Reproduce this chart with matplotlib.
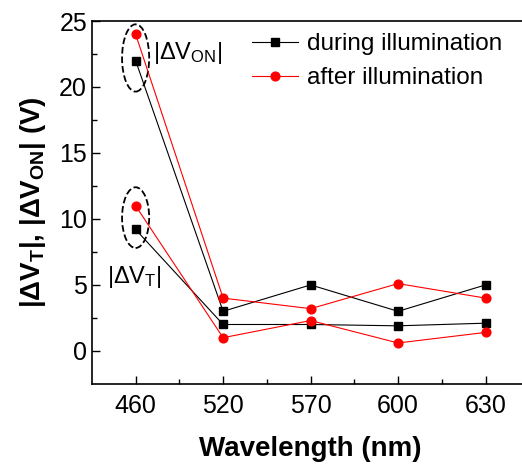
import matplotlib

matplotlib.use("Agg")
import matplotlib.pyplot as plt
from matplotlib.patches import Ellipse


# wavelengths (categorical, equally spaced on the axis)
wavelengths = ["460", "520", "570", "600", "630"]

# |dV_ON| and |dV_T| during / after illumination (V)
von_during = [22.0, 3.0, 5.0, 3.0, 5.0]
vt_during = [9.2, 2.0, 2.0, 1.9, 2.1]
von_after = [24.0, 4.0, 3.2, 5.1, 4.0]
vt_after = [11.0, 1.0, 2.3, 0.6, 1.4]

plt.rcParams["font.family"] = ["Liberation Sans", "DejaVu Sans"]
plt.rcParams["mathtext.fontset"] = "custom"
plt.rcParams["mathtext.rm"] = "Liberation Sans"
plt.rcParams["mathtext.it"] = "Liberation Sans:italic"
plt.rcParams["mathtext.bf"] = "Liberation Sans:bold"

fig = plt.figure(figsize=(5.22, 4.67), dpi=100)
ax = fig.add_axes([0.176, 0.178, 0.838, 0.777])

x = list(range(len(wavelengths)))

black_style = dict(color="black", marker="s", markersize=5.5, linewidth=0.8)
red_style = dict(color="red", marker="o", markersize=6.3, linewidth=0.8)

ax.plot(x, von_during, label="during illumination", **black_style)
ax.plot(x, von_after, label="after illumination", **red_style)
ax.plot(x, vt_during, **black_style)
ax.plot(x, vt_after, **red_style)

# dashed ellipses around the 460 nm points
ax.add_patch(Ellipse((0, 22.2), 0.31, 5.1, fill=False, linestyle="--",
                     linewidth=1.3, edgecolor="black"))
ax.add_patch(Ellipse((0, 10.1), 0.31, 4.6, fill=False, linestyle="--",
                     linewidth=1.3, edgecolor="black"))

ax.text(0.2, 22.6, r"|ΔV$_\mathrm{ON}$|", fontsize=17, va="center", ha="left")
ax.text(-0.33, 5.6, r"|ΔV$_\mathrm{T}$|", fontsize=17, va="center", ha="left")

ax.set_xlim(-0.5, 4.5)
ax.set_ylim(-2.5, 25)
ax.set_xticks(x)
ax.set_xticklabels(wavelengths)
ax.set_xticks([i + 0.5 for i in x[:-1]], minor=True)
ax.set_yticks([0, 5, 10, 15, 20, 25])
ax.set_yticks([2.5, 7.5, 12.5, 17.5, 22.5], minor=True)

ax.tick_params(which="both", direction="in", top=False, right=False,
               labelsize=18, width=1.0)
ax.tick_params(which="major", length=6)
ax.tick_params(which="minor", length=3.5)
ax.tick_params(axis="x", pad=7)
for spine in ax.spines.values():
    spine.set_linewidth(1.2)

ax.set_xlabel("Wavelength (nm)", fontsize=20, fontweight="bold", labelpad=13)
ax.set_ylabel(r"|ΔV$_\mathbf{T}$|, |ΔV$_\mathbf{ON}$| (V)", fontsize=20,
              fontweight="bold", labelpad=8)

fig.legend(loc="upper left", bbox_to_anchor=(252 / 522, 1 - 33 / 467),
           frameon=False, fontsize=17.5, handlelength=1.9, handletextpad=0.35,
           borderpad=0, borderaxespad=0, labelspacing=0.5)

fig.savefig("out.png", dpi=100)
